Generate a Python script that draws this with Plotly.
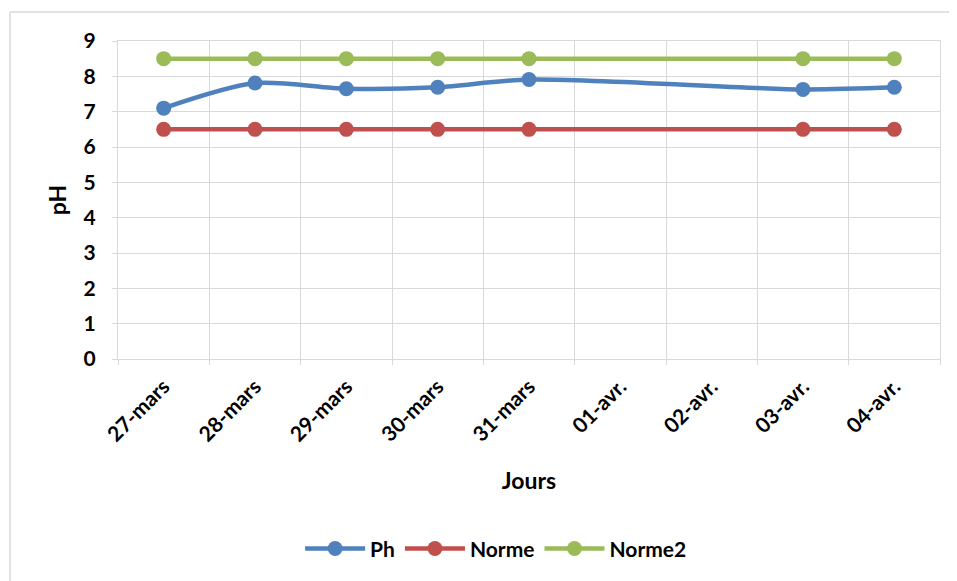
import plotly.graph_objects as go

categories = ["27-mars", "28-mars", "29-mars", "30-mars", "31-mars",
              "01-avr.", "02-avr.", "03-avr.", "04-avr."]
ph = [7.10, 7.81, 7.65, 7.69, 7.91, None, None, 7.63, 7.69]
norme = [6.5, 6.5, 6.5, 6.5, 6.5, None, None, 6.5, 6.5]
norme2 = [8.5, 8.5, 8.5, 8.5, 8.5, None, None, 8.5, 8.5]
y_ticks = list(range(0, 10))

FONT = "Lato, 'Open Sans', sans-serif"
GRID = "#d9d9d9"

fig = go.Figure()
for name, vals, col in [("Ph", ph, "#4F81BD"),
                        ("Norme", norme, "#C0504D"),
                        ("Norme2", norme2, "#9BBB59")]:
    fig.add_trace(go.Scatter(
        x=categories, y=vals, name=name, mode="lines+markers",
        connectgaps=True,
        line=dict(color=col, width=4.5, shape="spline", smoothing=0.8),
        marker=dict(color=col, size=15),
    ))

# page body has an 8px margin; figure sized to fit the window
L, T, PW, PH = 110, 33, 822, 318
fig.update_layout(
    width=949, height=573,
    margin=dict(l=L, r=949 - L - PW, t=T, b=573 - T - PH),
    paper_bgcolor="white", plot_bgcolor="white",
    font=dict(family=FONT, size=20, color="#000000"),
    showlegend=True,
    legend=dict(orientation="h", x=0.46, xanchor="center",
                y=-0.597, yanchor="middle",
                font=dict(family=FONT, size=21, color="#000000", weight="bold"),
                itemwidth=60, tracegroupgap=0),
    shapes=[
        dict(type="line", xref="paper", yref="paper",
             x0=(2 - L) / PW, x1=(960 - L) / PW,
             y0=1 + (T - 4) / PH, y1=1 + (T - 4) / PH,
             line=dict(color=GRID, width=1.5)),
        dict(type="line", xref="paper", yref="paper",
             x0=(2 - L) / PW, x1=(2 - L) / PW,
             y0=1 + (T - 4) / PH, y1=(T + PH - 600) / PH,
             line=dict(color=GRID, width=1.5)),
    ],
)

fig.update_xaxes(
    type="category", categoryorder="array", categoryarray=categories,
    tickson="boundaries", range=[-0.5, 8.5],
    tickangle=-45,
    tickfont=dict(family=FONT, size=21, color="#000000", weight="bold"),
    ticklabelstandoff=6,
    showgrid=True, gridcolor=GRID, gridwidth=1,
    showline=True, linecolor=GRID, linewidth=1, mirror=True,
    ticks="outside", ticklen=5, tickcolor=GRID,
    title=dict(text="Jours", standoff=28,
               font=dict(family=FONT, size=23, color="#000000", weight="bold")),
    zeroline=False,
)
fig.update_yaxes(
    range=[0, 9], tickvals=y_ticks, ticktext=[str(v) for v in y_ticks],
    tickfont=dict(family=FONT, size=21, color="#000000", weight="bold"),
    showgrid=True, gridcolor=GRID, gridwidth=1,
    showline=True, linecolor=GRID, linewidth=1, mirror=True,
    ticks="outside", ticklen=5, tickcolor=GRID,
    ticklabelstandoff=12,
    title=dict(text="pH", standoff=10,
               font=dict(family=FONT, size=23, color="#000000", weight="bold")),
    zeroline=False,
)

fig.write_html("out.html")
